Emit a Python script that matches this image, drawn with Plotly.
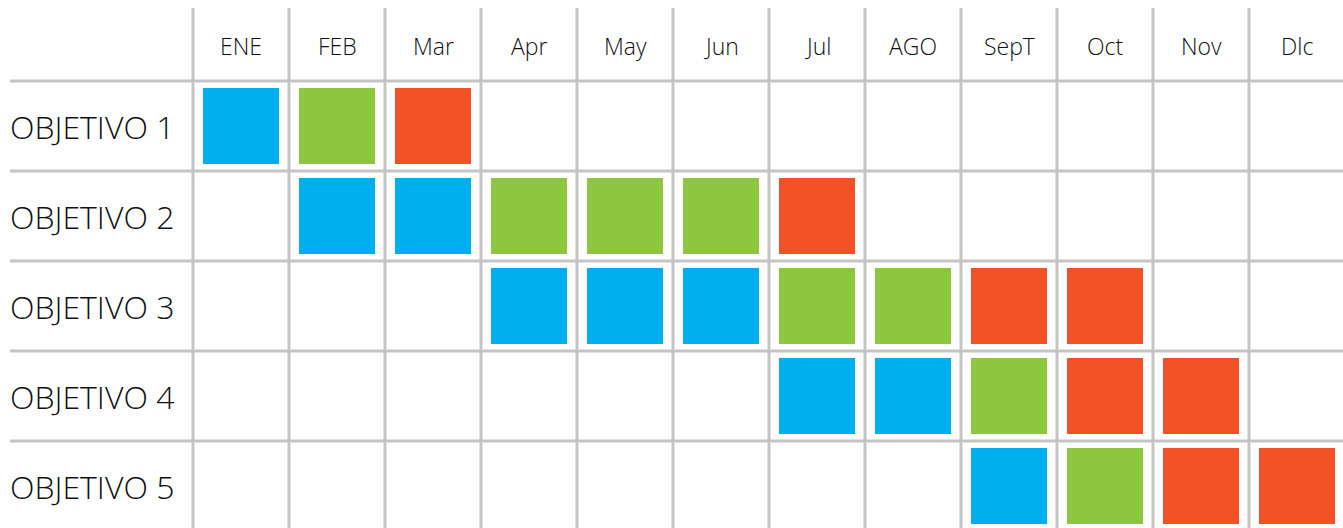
import plotly.graph_objects as go

months = ["ENE", "FEB", "Mar", "Apr", "May", "Jun", "Jul", "AGO", "SepT", "Oct", "Nov", "Dlc"]
objectives = ["OBJETIVO 1", "OBJETIVO 2", "OBJETIVO 3", "OBJETIVO 4", "OBJETIVO 5"]

# status codes per month: B = blue, G = green, R = red, "" = empty
objetivo_1 = ["B", "G", "R", "", "", "", "", "", "", "", "", ""]
objetivo_2 = ["", "B", "B", "G", "G", "G", "R", "", "", "", "", ""]
objetivo_3 = ["", "", "", "B", "B", "B", "G", "G", "R", "R", "", ""]
objetivo_4 = ["", "", "", "", "", "", "B", "B", "G", "R", "R", ""]
objetivo_5 = ["", "", "", "", "", "", "", "", "B", "G", "R", "R"]
status_rows = [objetivo_1, objetivo_2, objetivo_3, objetivo_4, objetivo_5]

status_colors = {"B": "#00AEEF", "G": "#8DC63F", "R": "#F15124"}

W, H = 1343, 528
CELL_W, CELL_H = 96, 90
X0, Y0 = 193, 81  # pixel position of the first grid lines

x_range = [-X0 / CELL_W, (W - X0) / CELL_W]
y_range = [(H - Y0) / CELL_H, -Y0 / CELL_H]

fig = go.Figure()

for code, color in status_colors.items():
    xs, ys = [], []
    for j, row in enumerate(status_rows):
        for i, s in enumerate(row):
            if s == code:
                xs.append(i + 0.5)
                ys.append(j + 0.5)
    fig.add_trace(go.Scatter(
        x=xs, y=ys, mode="markers",
        marker=dict(symbol="square", size=76, color=color, line=dict(width=0)),
        showlegend=False, hoverinfo="skip",
    ))

grid_color = "#C4C4C4"
# vertical grid lines
for i in range(len(months)):
    fig.add_shape(type="line", x0=i, x1=i, y0=(8 - Y0) / CELL_H, y1=y_range[0] + 0.2,
                  line=dict(color=grid_color, width=3), layer="below")
# horizontal grid lines
for j in range(len(objectives)):
    fig.add_shape(type="line", x0=(10 - X0) / CELL_W, x1=x_range[1] + 0.2, y0=j, y1=j,
                  line=dict(color=grid_color, width=3), layer="below")

label_font = dict(family="Open Sans", size=23, color="#111111", weight=300)
for i, m in enumerate(months):
    fig.add_annotation(x=i + 0.5, y=(46 - Y0) / CELL_H, text=m, showarrow=False,
                       xanchor="center", yanchor="middle", font=label_font)

row_font = dict(family="Open Sans", size=32, color="#111111", weight=300)
for j, o in enumerate(objectives):
    fig.add_annotation(x=(8 - X0) / CELL_W, y=j + 0.5, text=o, showarrow=False,
                       xanchor="left", yanchor="middle", font=row_font)

fig.update_layout(
    width=W, height=H,
    margin=dict(l=0, r=0, t=0, b=0),
    paper_bgcolor="white", plot_bgcolor="white",
    xaxis=dict(range=x_range, visible=False, fixedrange=True),
    yaxis=dict(range=y_range, visible=False, fixedrange=True),
    hovermode=False,
)

fig.write_html("out.html", config={"displayModeBar": False},
               post_script="document.body.style.margin='0';document.body.style.overflow='hidden';")
